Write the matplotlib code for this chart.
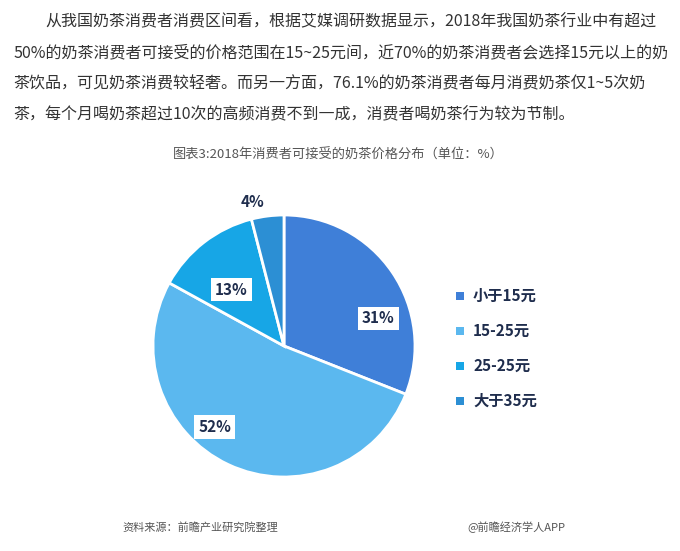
import matplotlib
matplotlib.use("Agg")
import matplotlib.pyplot as plt

plt.rcParams["font.family"] = ["Noto Sans CJK SC", "DejaVu Sans"]

categories = ["小于15元", "15-25元", "25-25元", "大于35元"]
values = [31, 52, 13, 4]
labels = ["31%", "52%", "13%", "4%"]
colors = ["#3f7fd8", "#5bb8ef", "#17a6e6", "#2c8fd4"]

fig = plt.figure(figsize=(6.8, 5.51), dpi=100)
fig.patch.set_facecolor("white")

para = ["从我国奶茶消费者消费区间看，根据艾媒调研数据显示，2018年我国奶茶行业中有超过",
        "50%的奶茶消费者可接受的价格范围在15~25元间，近70%的奶茶消费者会选择15元以上的奶",
        "茶饮品，可见奶茶消费较轻奢。而另一方面，76.1%的奶茶消费者每月消费奶茶仅1~5次奶",
        "茶，每个月喝奶茶超过10次的高频消费不到一成，消费者喝奶茶行为较为节制。"]
xs = [45, 13, 13, 13]
for i, (t, x) in enumerate(zip(para, xs)):
    fig.text(x / 680, 1 - (22 + i * 31) / 551, t, fontsize=11.5, color="#333333", va="center")

fig.text(338 / 680, 1 - 155 / 551, "图表3:2018年消费者可接受的奶茶价格分布（单位：%）",
         fontsize=9.5, color="#555555", ha="center", va="center")

ax = fig.add_axes([153 / 680, 74 / 551, 262 / 680, 262 / 551])
wedges, _ = ax.pie(values, colors=colors, startangle=90, counterclock=False,
                   wedgeprops=dict(edgecolor="white", linewidth=2))
ax.set_xlim(-1, 1)
ax.set_ylim(-1, 1)
ax.set_aspect("equal")

label_pos = [(0.72, 0.21), (-0.53, -0.62), (-0.40, 0.43), (-0.24, 1.10)]
for (x, y), t, i in zip(label_pos, labels, range(4)):
    kw = {}
    if i < 3:
        kw["bbox"] = dict(boxstyle="square,pad=0.25", fc="white", ec="none")
    ax.text(x, y, t, ha="center", va="center", fontsize=11, fontweight="bold",
            color="#1f2d4d", clip_on=False, **kw)

for i, (c, lab) in enumerate(zip(colors, categories)):
    y = 1 - (296 + i * 35) / 551
    fig.patches.append(plt.Rectangle((456 / 680, y - 4 / 551), 8 / 680, 8 / 551,
                                     transform=fig.transFigure, fc=c, ec="none"))
    fig.text(473 / 680, y, lab, fontsize=11, fontweight="bold", color="#1f2d4d", va="center")

fig.text(122 / 680, 1 - 527 / 551, "资料来源：前瞻产业研究院整理", fontsize=8,
         color="#555555", style="italic", va="center")
fig.text(565 / 680, 1 - 527 / 551, "@前瞻经济学人APP", fontsize=8,
         color="#555555", ha="right", va="center")

fig.savefig("out.png", dpi=100, facecolor="white")
